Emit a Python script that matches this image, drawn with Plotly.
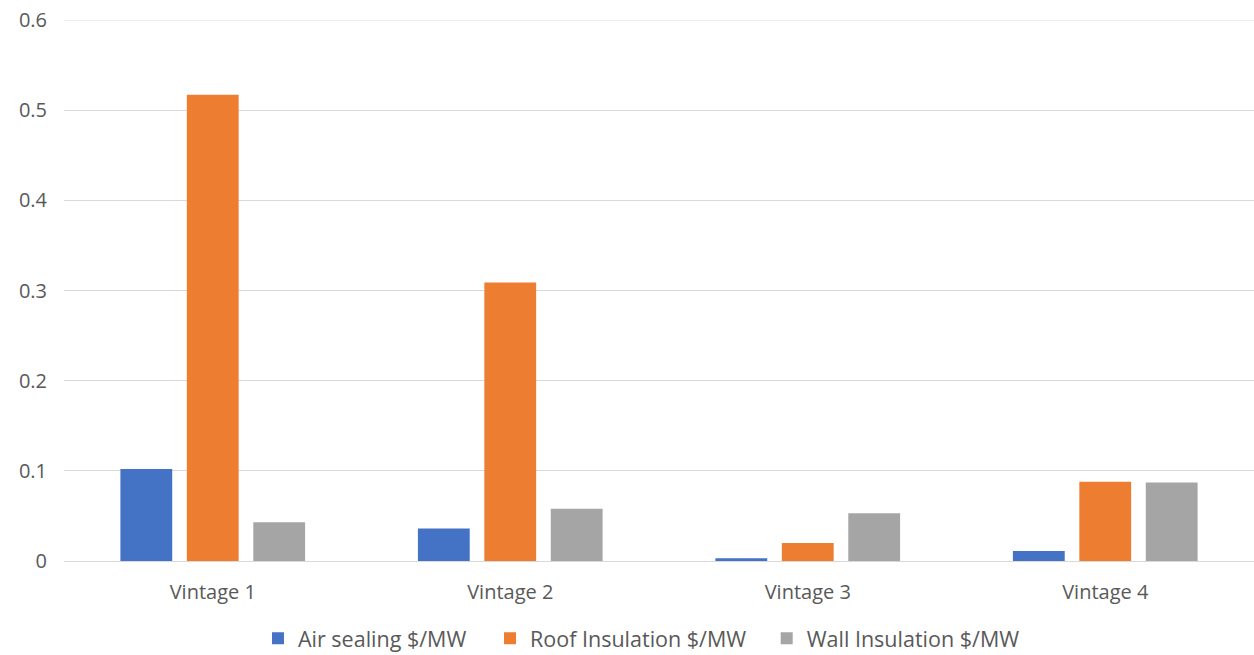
import plotly.graph_objects as go

categories = ["Vintage 1", "Vintage 2", "Vintage 3", "Vintage 4"]
air_sealing = [0.102, 0.036, 0.003, 0.011]
roof_insulation = [0.517, 0.309, 0.020, 0.088]
wall_insulation = [0.043, 0.058, 0.053, 0.087]

series_names = ["Air sealing $/MW", "Roof Insulation $/MW", "Wall Insulation $/MW"]
colors = ["#4472C4", "#ED7D31", "#A5A5A5"]
legend_ids = ["legend", "legend2", "legend3"]
legend_x = [0.163, 0.358, 0.5905]

FONT = "Open Sans"

fig = go.Figure()
for name, vals, col, lg in zip(series_names, [air_sealing, roof_insulation, wall_insulation], colors, legend_ids):
    fig.add_trace(go.Bar(
        x=categories, y=vals, name=name,
        marker=dict(color=col, line=dict(width=0)),
        legend=lg,
    ))

legend_common = dict(
    orientation="h",
    y=-0.143, yanchor="middle",
    xanchor="left",
    font=dict(family=FONT, size=21.5, color="#595959"),
    bgcolor="rgba(0,0,0,0)",
)

fig.update_layout(
    width=1254, height=655,
    barmode="group",
    bargap=0.33,
    bargroupgap=0.22,
    plot_bgcolor="white",
    paper_bgcolor="white",
    margin=dict(l=64, r=0, t=20, b=94, autoexpand=False),
    font=dict(family=FONT, size=20, color="#595959"),
    legend=dict(x=legend_x[0], **legend_common),
    legend2=dict(x=legend_x[1], **legend_common),
    legend3=dict(x=legend_x[2], **legend_common),
    showlegend=True,
)

fig.update_yaxes(
    range=[0, 0.6],
    tickvals=[0, 0.1, 0.2, 0.3, 0.4, 0.5, 0.6],
    ticktext=["0", "0.1", "0.2", "0.3", "0.4", "0.5", "0.6"],
    showgrid=True, gridcolor="#D9D9D9", gridwidth=1,
    zeroline=False,
    showline=False,
    ticks="",
    ticklabelstandoff=16,
    automargin=False,
    tickfont=dict(family=FONT, size=20, color="#595959"),
)
fig.update_xaxes(
    showline=True, linecolor="#D9D9D9", linewidth=1,
    ticks="",
    ticklabelstandoff=13,
    automargin=False,
    tickfont=dict(family=FONT, size=20, color="#595959"),
)
fig.add_shape(type="line", xref="paper", yref="y", x0=0, x1=1, y0=0.6, y1=0.6,
              line=dict(color="#D9D9D9", width=1), layer="below")

fig.write_html("out.html", config={"displayModeBar": False},
               post_script="document.body.style.margin='0';")
